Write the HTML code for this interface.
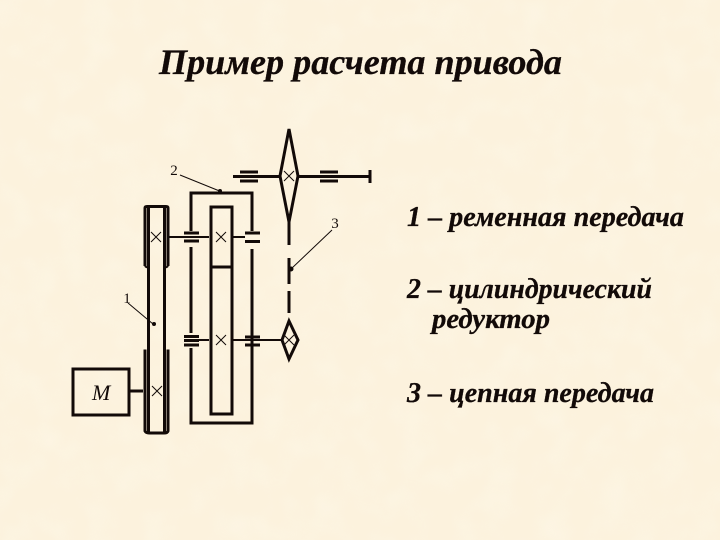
<!DOCTYPE html>
<html><head><meta charset="utf-8"><style>
html,body{margin:0;padding:0;background:#fcf2dd}
#p{position:relative;width:720px;height:540px;overflow:hidden;background:#fcf2dd}
svg{position:absolute;left:0;top:0}
text{font-family:"Liberation Serif",serif;fill:#120a08}
.b{font-style:italic;font-weight:bold;stroke:#120a08;stroke-width:.3px}
</style></head><body><div id="p">
<svg width="720" height="540" viewBox="0 0 720 540">
<defs><filter id="n" x="0" y="0" width="100%" height="100%"><feTurbulence type="fractalNoise" baseFrequency="0.035" numOctaves="2" seed="4"/><feColorMatrix values="0 0 0 0 1  0 0 0 0 .98  0 0 0 0 .9  1.4 0 0 0 -.55"/></filter></defs>
<rect width="720" height="540" filter="url(#n)" opacity=".35"/>
<g fill="none" stroke="#120a08" stroke-linecap="butt">
<g stroke-width="3">
<path d="M145 266V208Q145 206.500 147 206.500H166Q168 206.500 168 208V266"/>
<path d="M145 266Q146 267.500 149 267.500M168 266Q167 267.500 164 267.500" stroke-width="2"/>
<path d="M145 349.500V431Q146 433 149 433H164Q167.500 433 168 431V349.500"/>
<path d="M148.500 206V433M164.500 206V433"/>
<path d="M191 231V193H252V231M191 247V333M191 348V423H252V249"/>
<path d="M211 207H232V414H211ZM211 267H232"/>
<rect x="73" y="369" width="56" height="46"/>
<path d="M129 391H143"/>
<path d="M184 233H199M184 241H199M184 336.500H199M184 340.500H199M184 345H199M245 233H260M245 241.500H260M245 337H260M245 345H260"/>
<path d="M240 172H258M240 181H258M320 172H338M320 181H338"/>
<path d="M233 176.500H280M298 176.500H370M370 170V183"/>
<path d="M289 129L298 176L289 222L280 176Z"/>
<path d="M289 222V245M289 258V284M289 291V313"/>
<path d="M289 321L298 340L289 359L282 340Z"/>
</g>
<path d="M169 237H209M232 237H245M199 340H209M232 340H282" stroke-width="2"/>
<path d="M151 232L161 242M161 232L151 242M216 232L226 242M226 232L216 242M216 335L226 345M226 335L216 345M152 386L162 396M162 386L152 396M284 171L294 181M294 171L284 181M284 335L294 345M294 335L284 345" stroke-width="1"/>
<path d="M180 175L222 192M128 303L153 324M332 230L291 269" stroke-width="1"/>
</g>
<g fill="#120a08"><circle cx="220" cy="191" r="2"/><circle cx="154" cy="324" r="2"/><circle cx="291" cy="269" r="2.500"/></g>
<text x="174" y="175" font-size="15" text-anchor="middle">2</text>
<text x="127" y="303" font-size="15" text-anchor="middle">1</text>
<text x="335" y="228" font-size="15" text-anchor="middle">3</text>
<text x="92" y="400" font-size="22" font-style="italic">M</text>
<text class="b" x="159" y="74" font-size="36" textLength="403" lengthAdjust="spacingAndGlyphs">Пример расчета привода</text>
<text class="b" x="407" y="226" font-size="28" textLength="277" lengthAdjust="spacingAndGlyphs">1 – ременная передача</text>
<text class="b" x="407" y="298" font-size="28" textLength="245" lengthAdjust="spacingAndGlyphs">2 – цилиндрический</text>
<text class="b" x="432" y="328" font-size="28" textLength="118" lengthAdjust="spacingAndGlyphs">редуктор</text>
<text class="b" x="407" y="402" font-size="28" textLength="247" lengthAdjust="spacingAndGlyphs">3 – цепная передача</text>
</svg>
</div></body></html>
